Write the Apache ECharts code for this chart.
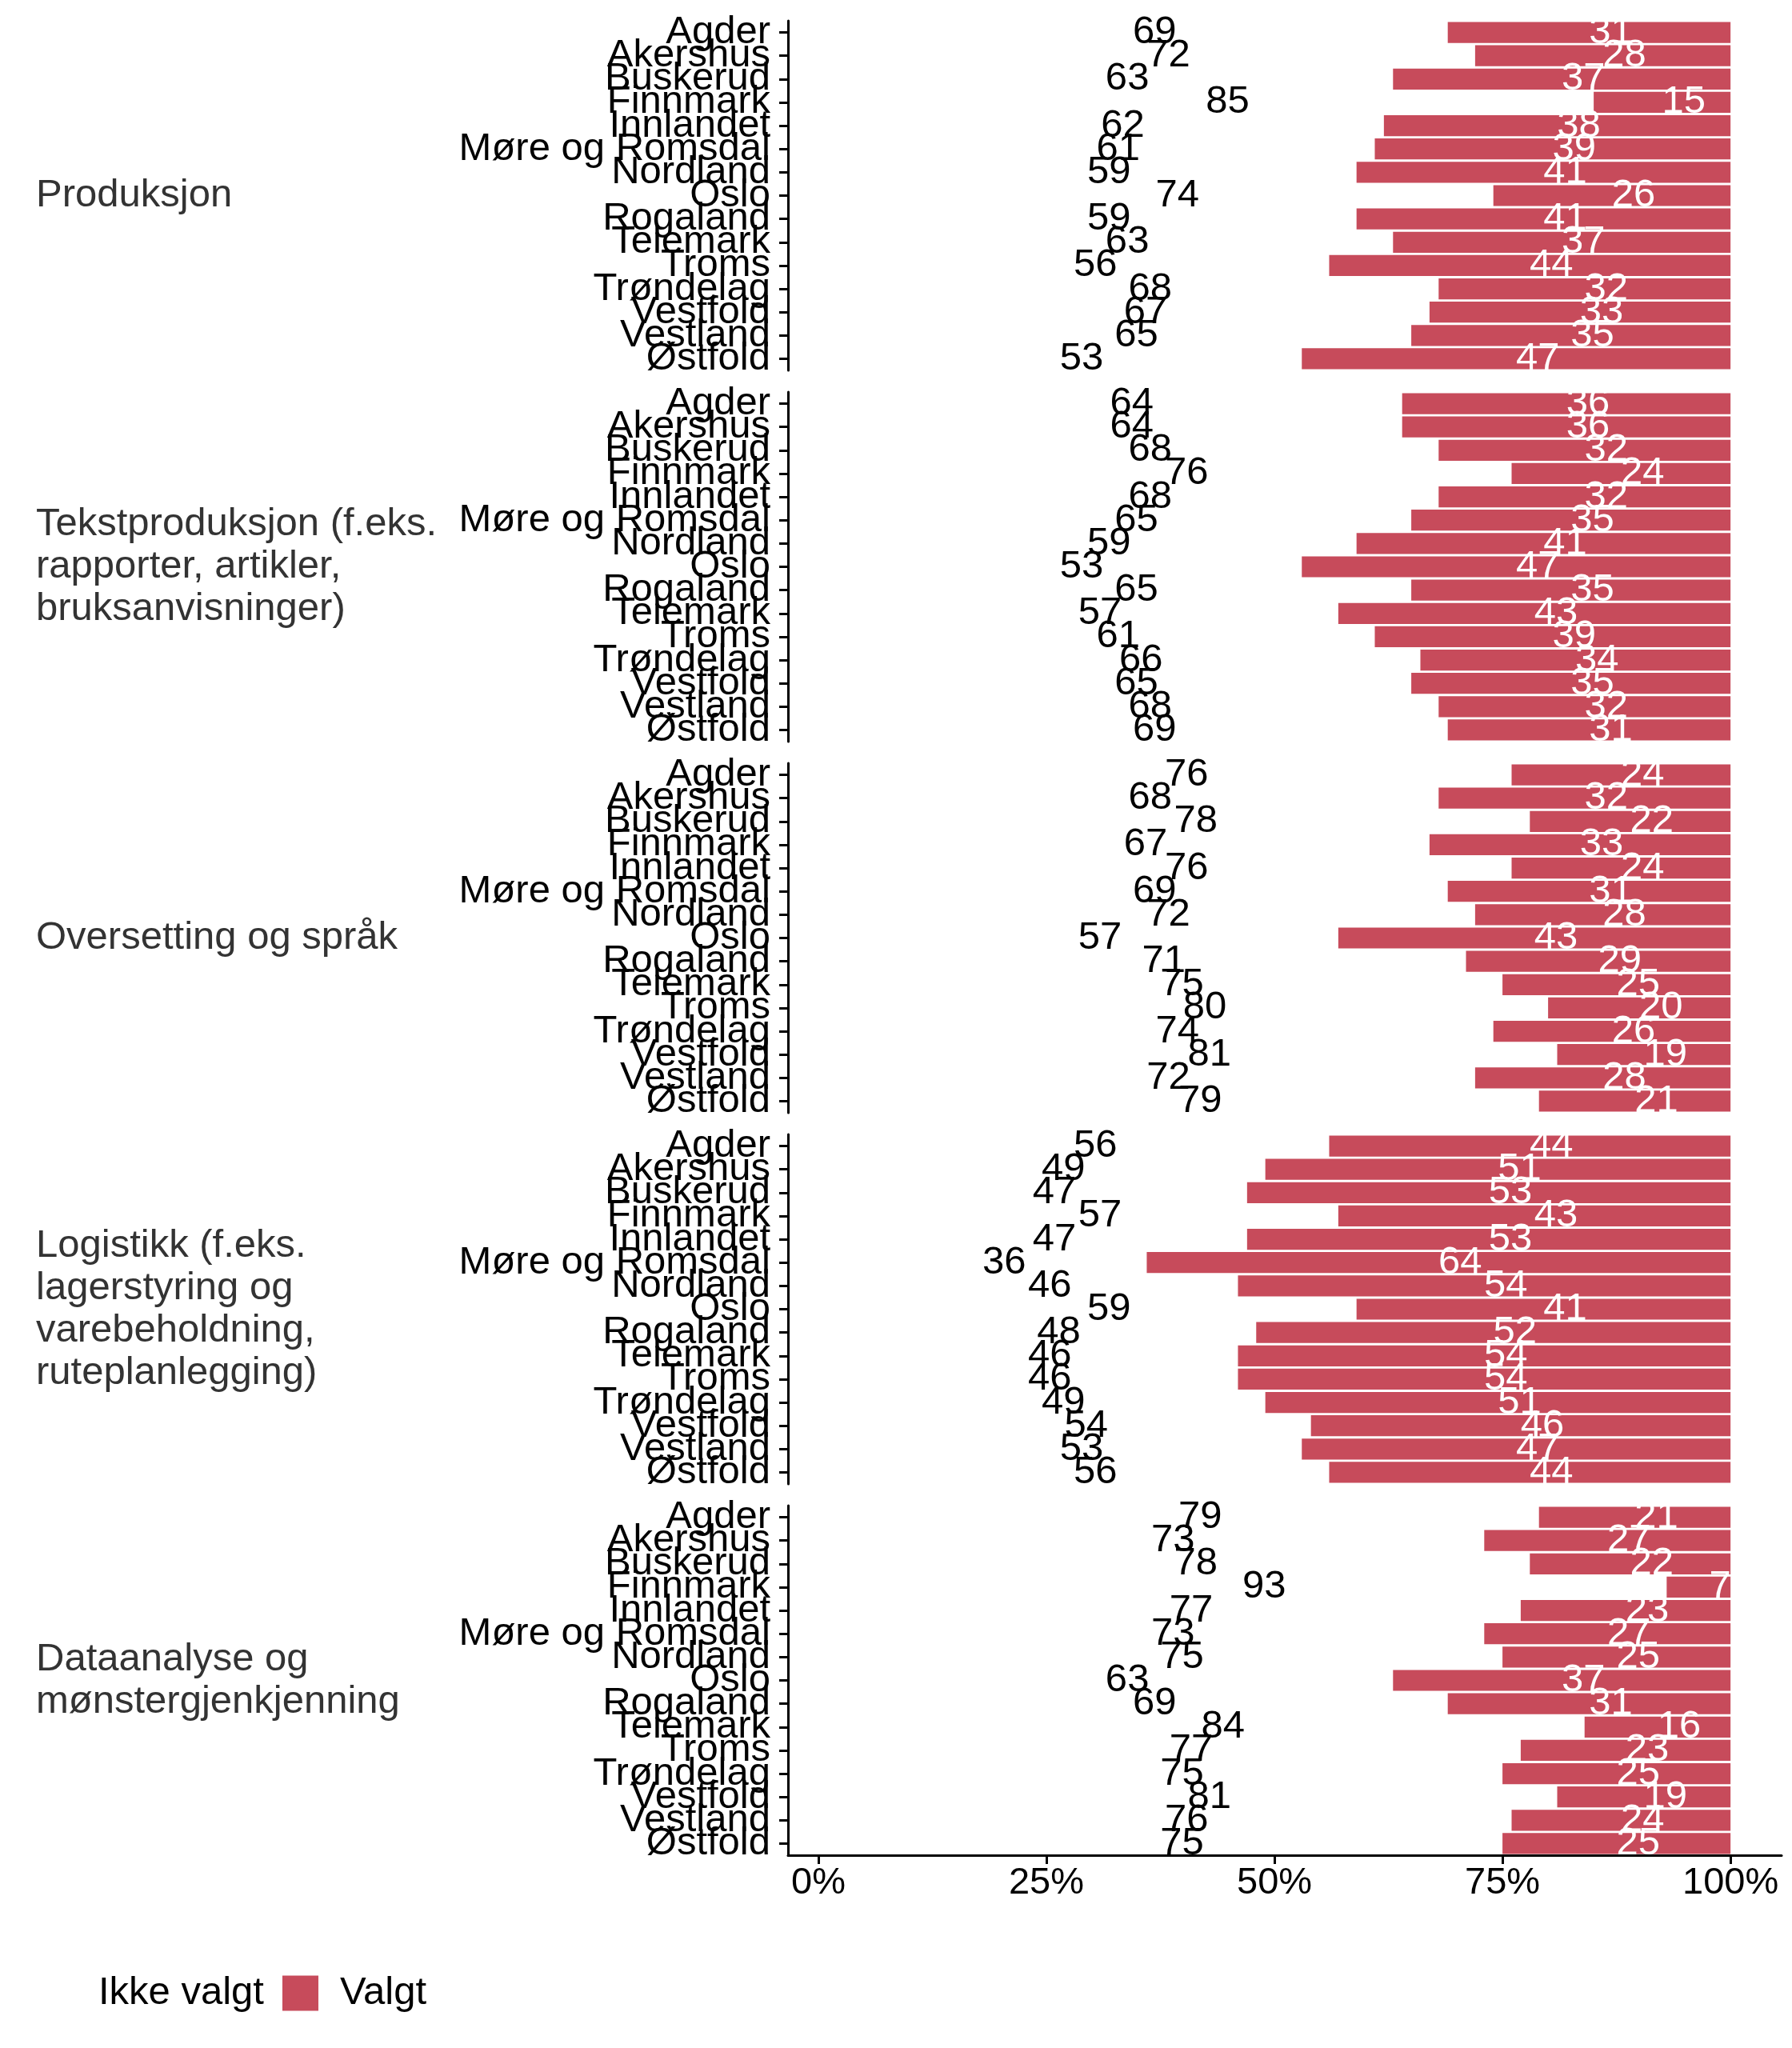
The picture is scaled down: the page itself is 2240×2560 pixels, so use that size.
<!DOCTYPE html>
<html>
<head>
<meta charset="utf-8">
<script src="https://cdn.jsdelivr.net/npm/echarts@6/dist/echarts.min.js"></script>
<style>html,body{margin:0;padding:0;background:#fff}#c{width:2240px;height:2560px}</style>
</head>
<body>
<div id="c"></div>
<script>
const regions = ["Agder","Akershus","Buskerud","Finnmark","Innlandet","Møre og Romsdal","Nordland","Oslo","Rogaland","Telemark","Troms","Trøndelag","Vestfold","Vestland","Østfold"];
const tasks = ["Produksjon","Tekstproduksjon (f.eks.\nrapporter, artikler,\nbruksanvisninger)","Oversetting og språk","Logistikk (f.eks.\nlagerstyring og\nvarebeholdning,\nruteplanlegging)","Dataanalyse og\nmønstergjenkjenning"];
const seriesNames = ["Ikke valgt","Valgt"];
const xTickValues = [0,25,50,75,100];

const produksjonIkke  = [69,72,63,85,62,61,59,74,59,63,56,68,67,65,53];
const produksjonValgt = [31,28,37,15,38,39,41,26,41,37,44,32,33,35,47];
const tekstIkke  = [64,64,68,76,68,65,59,53,65,57,61,66,65,68,69];
const tekstValgt = [36,36,32,24,32,35,41,47,35,43,39,34,35,32,31];
const oversettingIkke  = [76,68,78,67,76,69,72,57,71,75,80,74,81,72,79];
const oversettingValgt = [24,32,22,33,24,31,28,43,29,25,20,26,19,28,21];
const logistikkIkke  = [56,49,47,57,47,36,46,59,48,46,46,49,54,53,56];
const logistikkValgt = [44,51,53,43,53,64,54,41,52,54,54,51,46,47,44];
const dataanalyseIkke  = [79,73,78,93,77,73,75,63,69,84,77,75,81,76,75];
const dataanalyseValgt = [21,27,22,7,23,27,25,37,31,16,23,25,19,24,25];

const ikkeSets = [produksjonIkke, tekstIkke, oversettingIkke, logistikkIkke, dataanalyseIkke];
const valgtSets = [produksjonValgt, tekstValgt, oversettingValgt, logistikkValgt, dataanalyseValgt];

const FONT = "Liberation Sans, Arial, sans-serif";
const FS = 49;
const RED = "#C74B5B";
const panelTops = [23, 487, 951, 1415, 1879];
const panelH = 443;
const inset = 3;

const grids = [], xAxes = [], yAxes = [], series = [];
panelTops.forEach((top, i) => {
  grids.push({left: 985, right: 13, top: top + inset, height: panelH - 2*inset, containLabel: false});
  const last = i === panelTops.length - 1;
  xAxes.push({
    type: 'value', gridIndex: i, min: -3.33, max: 105.6,
    splitLine: {show: false},
    axisLine: {show: last, onZero: false, lineStyle: {color: '#000', width: 3}},
    axisTick: {show: last, length: 11, lineStyle: {color: '#000', width: 3}, customValues: xTickValues},
    axisLabel: {show: last, customValues: xTickValues, formatter: v => v + '%', fontSize: 47, color: '#000', fontFamily: FONT, margin: 12}
  });
  yAxes.push({
    type: 'category', gridIndex: i, data: regions, inverse: true,
    axisLine: {show: true, onZero: false, lineStyle: {color: '#000', width: 3}},
    axisTick: {show: true, alignWithLabel: true, length: 11, lineStyle: {color: '#000', width: 3}},
    axisLabel: {interval: 0, fontSize: FS, color: '#000', fontFamily: FONT, margin: 22}
  });
  series.push({
    name: seriesNames[0], type: 'bar', stack: 's' + i, xAxisIndex: i, yAxisIndex: i,
    data: ikkeSets[i], barCategoryGap: '10%',
    itemStyle: {color: 'rgba(255,255,255,0)'},
    label: {show: true, position: 'inside', offset: [27, 0], fontSize: FS, color: '#000', fontFamily: FONT}
  });
  series.push({
    name: seriesNames[1], type: 'bar', stack: 's' + i, xAxisIndex: i, yAxisIndex: i,
    data: valgtSets[i], barCategoryGap: '10%',
    itemStyle: {color: RED},
    label: {show: true, position: 'inside', offset: [27, 0], fontSize: FS, color: '#fff', fontFamily: FONT}
  });
});

const chart = echarts.init(document.getElementById('c'), null, {renderer: 'canvas'});
chart.setOption({
  animation: false,
  backgroundColor: '#fff',
  grid: grids, xAxis: xAxes, yAxis: yAxes, series: series,
  legend: {
    data: seriesNames, left: 46, top: 2462, itemWidth: 45, itemHeight: 44, itemGap: 23,
    icon: 'rect', selectedMode: false,
    textStyle: {fontSize: FS, color: '#000', fontFamily: FONT, padding: [0,0,0,22]}
  },
  graphic: panelTops.map((top, i) => {
    const lines = tasks[i].split('\n').length;
    const h = lines * 53;
    return {type: 'text', left: 45, top: top + panelH/2 - h/2,
      style: {text: tasks[i], fontSize: FS, lineHeight: 53, fill: '#333', fontFamily: FONT}};
  })
});
</script>
</body>
</html>
